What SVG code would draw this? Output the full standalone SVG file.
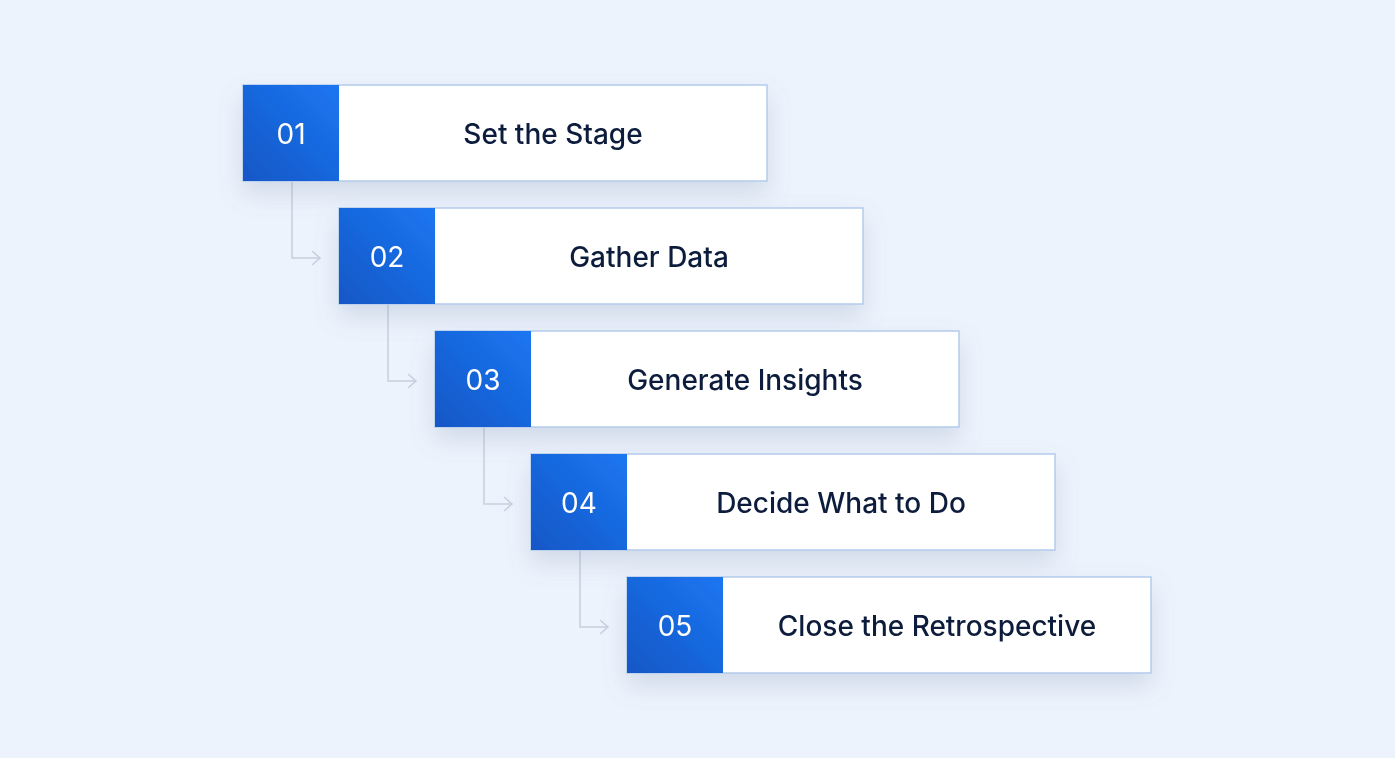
<svg xmlns="http://www.w3.org/2000/svg" width="1395" height="758" viewBox="0 0 1395 758">
<style>
.card{fill:#ffffff;stroke:#b3cbeb;stroke-width:1.5}
.num{fill:#ffffff;font-family:Inter,"Liberation Sans",sans-serif;font-size:28px;text-anchor:middle;dominant-baseline:central}
.lbl{fill:#0c1e3c;font-family:Inter,"Liberation Sans",sans-serif;font-size:28px;font-weight:500;text-anchor:middle;dominant-baseline:central}
.conn{fill:none;stroke:#c6d0de;stroke-width:1.5}
</style>
<defs>
<linearGradient id="blue" x1="1" y1="0" x2="0" y2="1">
<stop offset="0" stop-color="#1c76f2"/>
<stop offset="1" stop-color="#1357c6"/>
</linearGradient>
<filter id="sh" x="-20%" y="-30%" width="140%" height="180%">
<feDropShadow dx="0" dy="12" stdDeviation="12" flood-color="#6b7f9e" flood-opacity="0.22"/>
</filter>
<marker id="arr" markerWidth="14" markerHeight="18" refX="12" refY="9" orient="auto" markerUnits="userSpaceOnUse">
<path d="M4,2 L12,9 L4,16" fill="none" stroke="#c6d0de" stroke-width="1.5"/>
</marker>
</defs>
<rect width="1395" height="758" fill="#edf3fd"/>
<g id="connectors">
<path class="conn" d="M292,181 V258 H320" marker-end="url(#arr)"/>
<path class="conn" d="M388,304 V381 H416" marker-end="url(#arr)"/>
<path class="conn" d="M484,427 V504 H512" marker-end="url(#arr)"/>
<path class="conn" d="M580,550 V627 H608" marker-end="url(#arr)"/>
</g>
<g id="step1" filter="url(#sh)">
<rect class="card" x="243" y="85" width="524" height="96"/>
<rect x="243" y="85" width="96" height="96" fill="url(#blue)"/>
<text class="num" x="291" y="134">01</text>
<text class="lbl" x="553" y="134">Set the Stage</text>
</g>
<g id="step2" filter="url(#sh)">
<rect class="card" x="339" y="208" width="524" height="96"/>
<rect x="339" y="208" width="96" height="96" fill="url(#blue)"/>
<text class="num" x="387" y="257">02</text>
<text class="lbl" x="649" y="257">Gather Data</text>
</g>
<g id="step3" filter="url(#sh)">
<rect class="card" x="435" y="331" width="524" height="96"/>
<rect x="435" y="331" width="96" height="96" fill="url(#blue)"/>
<text class="num" x="483" y="380">03</text>
<text class="lbl" x="745" y="380">Generate Insights</text>
</g>
<g id="step4" filter="url(#sh)">
<rect class="card" x="531" y="454" width="524" height="96"/>
<rect x="531" y="454" width="96" height="96" fill="url(#blue)"/>
<text class="num" x="579" y="503">04</text>
<text class="lbl" x="841" y="503">Decide What to Do</text>
</g>
<g id="step5" filter="url(#sh)">
<rect class="card" x="627" y="577" width="524" height="96"/>
<rect x="627" y="577" width="96" height="96" fill="url(#blue)"/>
<text class="num" x="675" y="626">05</text>
<text class="lbl" x="937" y="626">Close the Retrospective</text>
</g>
</svg>
